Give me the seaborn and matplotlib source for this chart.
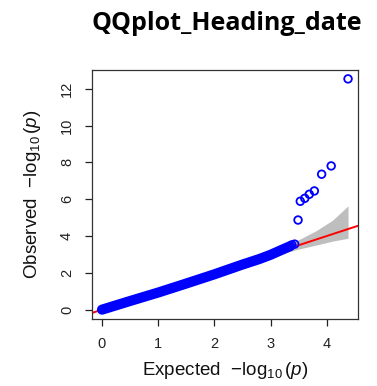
import matplotlib
matplotlib.use("Agg")
import matplotlib.pyplot as plt
import seaborn as sns
import pandas as pd

# ---- data ----
# main body of the QQ band (expected vs observed -log10 p)
band_expected = [0.0, 0.5, 1.0, 1.5, 2.0, 2.5, 2.8, 3.0, 3.2, 3.35]
band_observed = [0.0, 0.47, 0.93, 1.42, 1.92, 2.45, 2.75, 2.98, 3.25, 3.45]

# individual top-ranked points
top_expected = [4.38, 4.08, 3.91, 3.78, 3.69, 3.61, 3.53, 3.49, 3.43, 3.38]
top_observed = [12.54, 7.81, 7.36, 6.45, 6.27, 6.05, 5.89, 4.87, 3.56, 3.52]

# confidence band
ci_expected = [2.9, 3.2, 3.5, 3.8, 4.1, 4.38]
ci_upper = [3.03, 3.40, 3.80, 4.27, 4.85, 5.64]
ci_lower = [2.78, 3.04, 3.29, 3.50, 3.72, 3.88]

x_ticks = [0, 1, 2, 3, 4]
y_ticks = [0, 2, 4, 6, 8, 10, 12]

title = "QQplot_Heading_date"
xlabel = r"Expected  $-\log_{10}(\mathit{p})$"
ylabel = r"Observed  $-\log_{10}(\mathit{p})$"

# ---- plotting ----
sns.set_style("ticks")
plt.rcParams["font.family"] = ["Liberation Sans", "DejaVu Sans"]
plt.rcParams["mathtext.fontset"] = "custom"
plt.rcParams["mathtext.rm"] = "Liberation Sans"
plt.rcParams["mathtext.it"] = "Liberation Sans:italic"
plt.rcParams["mathtext.bf"] = "Liberation Sans:bold"

fig = plt.figure(figsize=(3.77, 3.86), dpi=100)
ax = fig.add_axes([0.244, 0.173, 0.706, 0.646])

band_df = pd.DataFrame({"expected": band_expected, "observed": band_observed})
top_df = pd.DataFrame({"expected": top_expected, "observed": top_observed})

ax.fill_between(ci_expected, ci_lower, ci_upper, color="#BEBEBE", lw=0, zorder=1)
ax.axline((0, 0), slope=1, color="#FF0000", lw=1.4, zorder=2)
sns.lineplot(data=band_df, x="expected", y="observed", ax=ax, color="#0000FF",
             lw=7.3, solid_capstyle="round", zorder=3)
sns.scatterplot(data=top_df, x="expected", y="observed", ax=ax, s=30,
                facecolor="none", edgecolor="#0000FF", linewidth=1.3, zorder=4)

ax.set_xlim(-0.178, 4.56)
ax.set_ylim(-0.52, 13.03)
ax.set_xticks(x_ticks)
ax.set_yticks(y_ticks)
ax.set_xticklabels([str(t) for t in x_ticks])
ax.set_yticklabels([str(t) for t in y_ticks], rotation=90, va="center")
ax.tick_params(axis="both", direction="out", length=5, width=0.9,
               color="#222222", labelsize=10.5, labelcolor="#222222", pad=8)
for s in ax.spines.values():
    s.set_color("#333333")
    s.set_linewidth(0.9)

ax.set_xlabel(xlabel, fontsize=13.5, color="#111111", labelpad=6)
ax.set_ylabel(ylabel, fontsize=13.5, color="#111111", labelpad=12)

fig.text(227 / 377, 1 - 24 / 386, title, ha="center", va="center",
         fontsize=18, fontweight="bold", family=["Open Sans", "DejaVu Sans"], color="black")

fig.savefig("out.png", dpi=100, facecolor="white")
